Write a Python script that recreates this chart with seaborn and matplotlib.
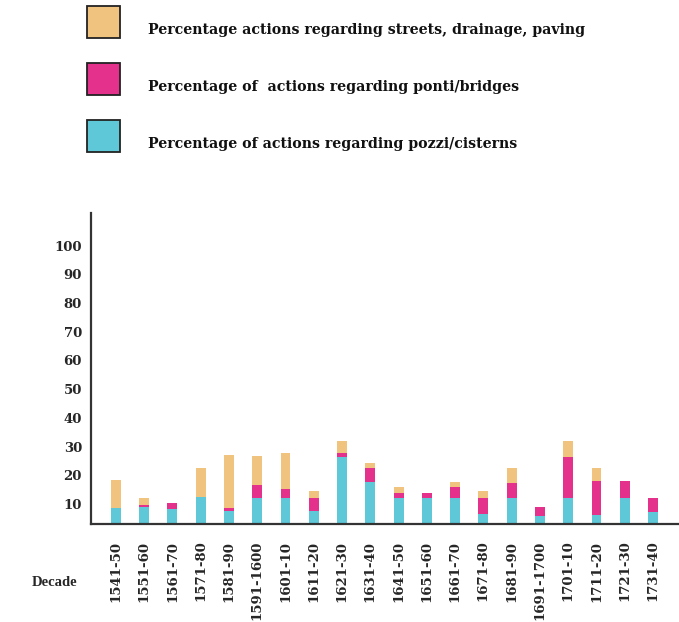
import numpy as np
import pandas as pd
import seaborn as sns
import matplotlib.pyplot as plt
from matplotlib.patches import Rectangle

# decades on the x axis
decades = ['1541-50', '1551-60', '1561-70', '1571-80', '1581-90', '1591-1600',
           '1601-10', '1611-20', '1621-30', '1631-40', '1641-50', '1651-60',
           '1661-70', '1671-80', '1681-90', '1691-1700', '1701-10', '1711-20',
           '1721-30', '1731-40']

# percentages (stack order: pozzi, ponti, streets)
pozzi = [8.4, 8.8, 8.2, 12.3, 7.5, 12.1, 12.1, 7.4, 26.4, 17.6,
         12.1, 12.1, 12.1, 6.5, 12.1, 5.9, 12.1, 6.0, 12.1, 7.0]
ponti = [0.0, 0.7, 2.1, 0.0, 1.1, 4.6, 3.0, 4.7, 1.2, 4.8,
         1.8, 1.7, 3.8, 5.6, 5.1, 3.0, 14.3, 12.0, 5.9, 5.1]
streets = [9.9, 2.6, 0.0, 10.1, 18.5, 9.9, 12.5, 2.4, 4.3, 1.9,
           2.0, 0.0, 1.8, 2.4, 5.2, 0.0, 5.5, 4.4, 0.0, 0.0]

yticks = [10, 20, 30, 40, 50, 60, 70, 80, 90, 100]

labels = ['Percentage actions regarding streets, drainage, paving',
          'Percentage of  actions regarding ponti/bridges',
          'Percentage of actions regarding pozzi/cisterns']
colors = ['#f0c47e', '#e4318c', '#5ec8d8']

df = pd.DataFrame({'decade': decades, 'pozzi': pozzi,
                   'ponti': ponti, 'streets': streets})
df['lvl1'] = df['pozzi']
df['lvl2'] = df['lvl1'] + df['ponti']
df['lvl3'] = df['lvl2'] + df['streets']

sns.set_style('white')
plt.rcParams['font.family'] = ['DejaVu Serif']

W, H = 679, 622
fig = plt.figure(figsize=(W / 100, H / 100), dpi=100)
ax = fig.add_axes([0.134, 0.1576, 0.866, 0.5])

# stacked bars: draw the tallest totals first, then cover with the lower parts
for col, c in zip(['lvl3', 'lvl2', 'lvl1'], colors):
    sns.barplot(data=df, x='decade', y=col, color=c, width=0.35,
                saturation=1, linewidth=0, ax=ax)

ax.set_xlim(-0.88, 19.92)
ax.set_ylim(3.0, 111.4)
ax.set_yticks(yticks)
ax.set_yticklabels([str(t) for t in yticks], fontweight='bold', fontsize=9.5)
ax.set_xticks(range(len(decades)))
ax.set_xticklabels(decades, rotation=90, fontweight='bold', fontsize=9.5)
ax.tick_params(axis='both', length=0)
ax.tick_params(axis='y', pad=6.5)
ax.tick_params(axis='x', pad=12)
ax.set_xlabel('')
ax.set_ylabel('')

for side in ['top', 'right']:
    ax.spines[side].set_visible(False)
for side in ['left', 'bottom']:
    ax.spines[side].set_color('#333333')
    ax.spines[side].set_linewidth(1.6)

fig.text(32 / W, 1 - 582 / H, 'Decade', fontsize=10.5, fontweight='bold',
         family='Liberation Serif', va='center', ha='left')

# legend drawn by hand: big squares with the text sitting a bit lower
for i, (lab, c) in enumerate(zip(labels, colors)):
    top = 6 + i * 57
    fig.patches.append(Rectangle((87 / W, 1 - (top + 32) / H), 33 / W, 32 / H,
                                 transform=fig.transFigure, facecolor=c,
                                 edgecolor='#222222', linewidth=1.3))
    fig.text(148 / W, 1 - (top + 24) / H, lab, fontsize=10.2,
             fontweight='bold', va='center', ha='left', color='#111111')

plt.savefig('out.png', dpi=100)
